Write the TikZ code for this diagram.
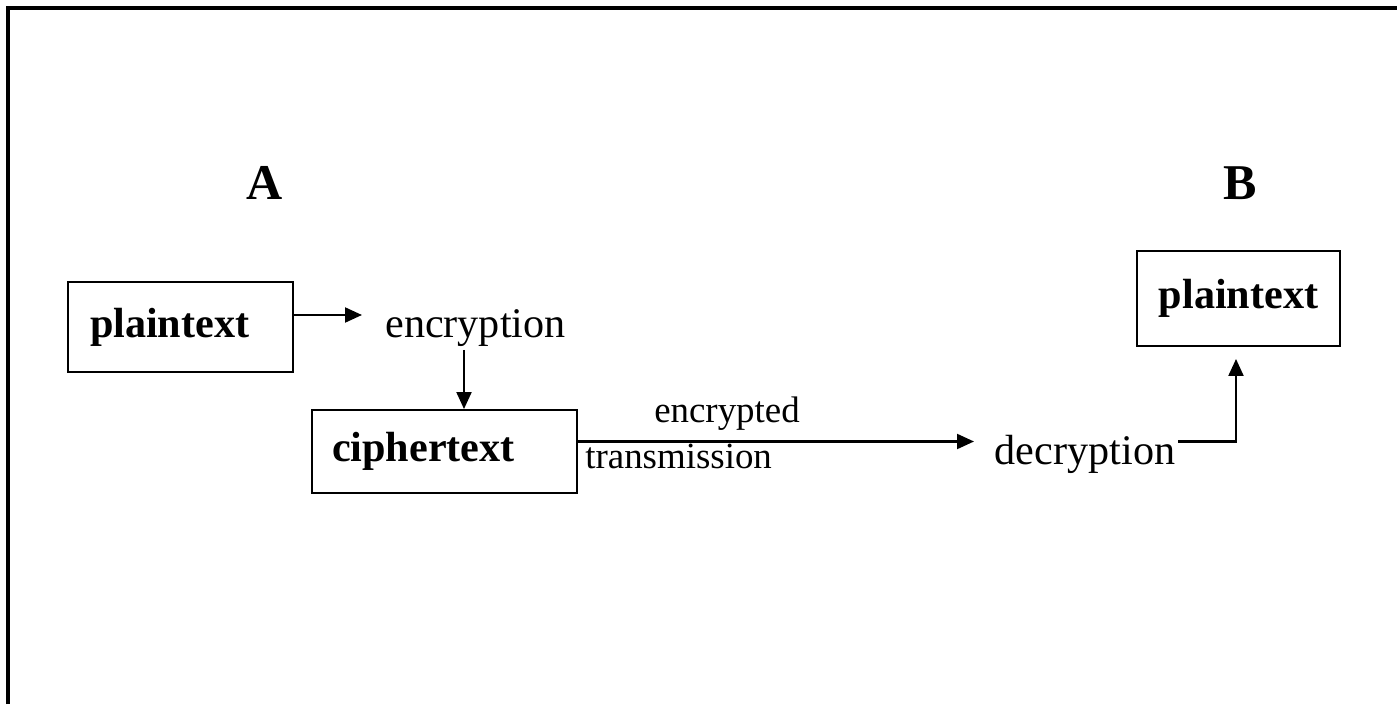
\documentclass[tikz,border=0pt]{standalone}
\usepackage{fontspec}
\setmainfont{Liberation Serif}
\usepackage{tikz}
\usetikzlibrary{shapes, arrows.meta, positioning}
\usepackage{xcolor}

\tikzset{
  box/.style={draw, line width=1.1pt, font=\bfseries\fontsize{24}{28}\selectfont},
  word/.style={inner sep=0pt, font=\fontsize{24}{28}\selectfont},
  small/.style={inner sep=0pt, font=\fontsize{21}{25}\selectfont},
  party/.style={inner sep=0pt, font=\bfseries\fontsize{28.5}{32}\selectfont},
  arr/.style={line width=1.2pt, -{Triangle[length=0.34cm,width=0.3cm]}}
}

\begin{document}
\begin{tikzpicture}
\useasboundingbox (0cm,0cm) rectangle (27.94cm,14.08cm);
% frame
\draw [line width=2pt] (0.16cm,0cm) -- (0.16cm,13.92cm) -- (27.94cm,13.92cm);
% sender and receiver
\node [party, anchor=base] (lblA) at (5.30cm,10.08cm) {A};
\node [party, anchor=base] (lblB) at (24.80cm,10.08cm) {B};
% boxes
\node [box, inner xsep=0.44cm, text width=3.62cm, align=left, minimum height=1.8cm] (ptA) at (3.61cm,7.54cm) {plaintext};
\node [box, inner xsep=0.4cm, text width=4.5cm, align=left, minimum height=1.66cm] (ciph) at (8.89cm,5.05cm) {ciphertext};
\node [box, minimum width=4.06cm, minimum height=1.9cm] (ptB) at (24.77cm,8.11cm) {plaintext};
% steps
\node [word, anchor=base] (enc) at (9.51cm,7.32cm) {encryption};
\node [word, anchor=base] (dec) at (21.70cm,4.78cm) {decryption};
\node [small, anchor=base] (lbltop) at (14.54cm,5.62cm) {encrypted};
\node [small, anchor=base west] (lblbot) at (11.70cm,4.72cm) {transmission};
% arrow ends
\coordinate (encin) at (7.24cm,7.78cm);
\coordinate (encout) at (9.28cm,7.08cm);
\coordinate (decin) at (19.48cm,5.25cm);
\coordinate (decout) at (23.56cm,5.25cm);
\draw [arr] (ptA.east |- encin) -- (encin);
\draw [arr] (encout) -- (encout |- ciph.north);
\draw [arr] (ciph.east |- decin) -- (decin);
\draw [arr, shorten >=0.24cm] (decout) -| ([xshift=-0.05cm]ptB.south);
\end{tikzpicture}
\end{document}
